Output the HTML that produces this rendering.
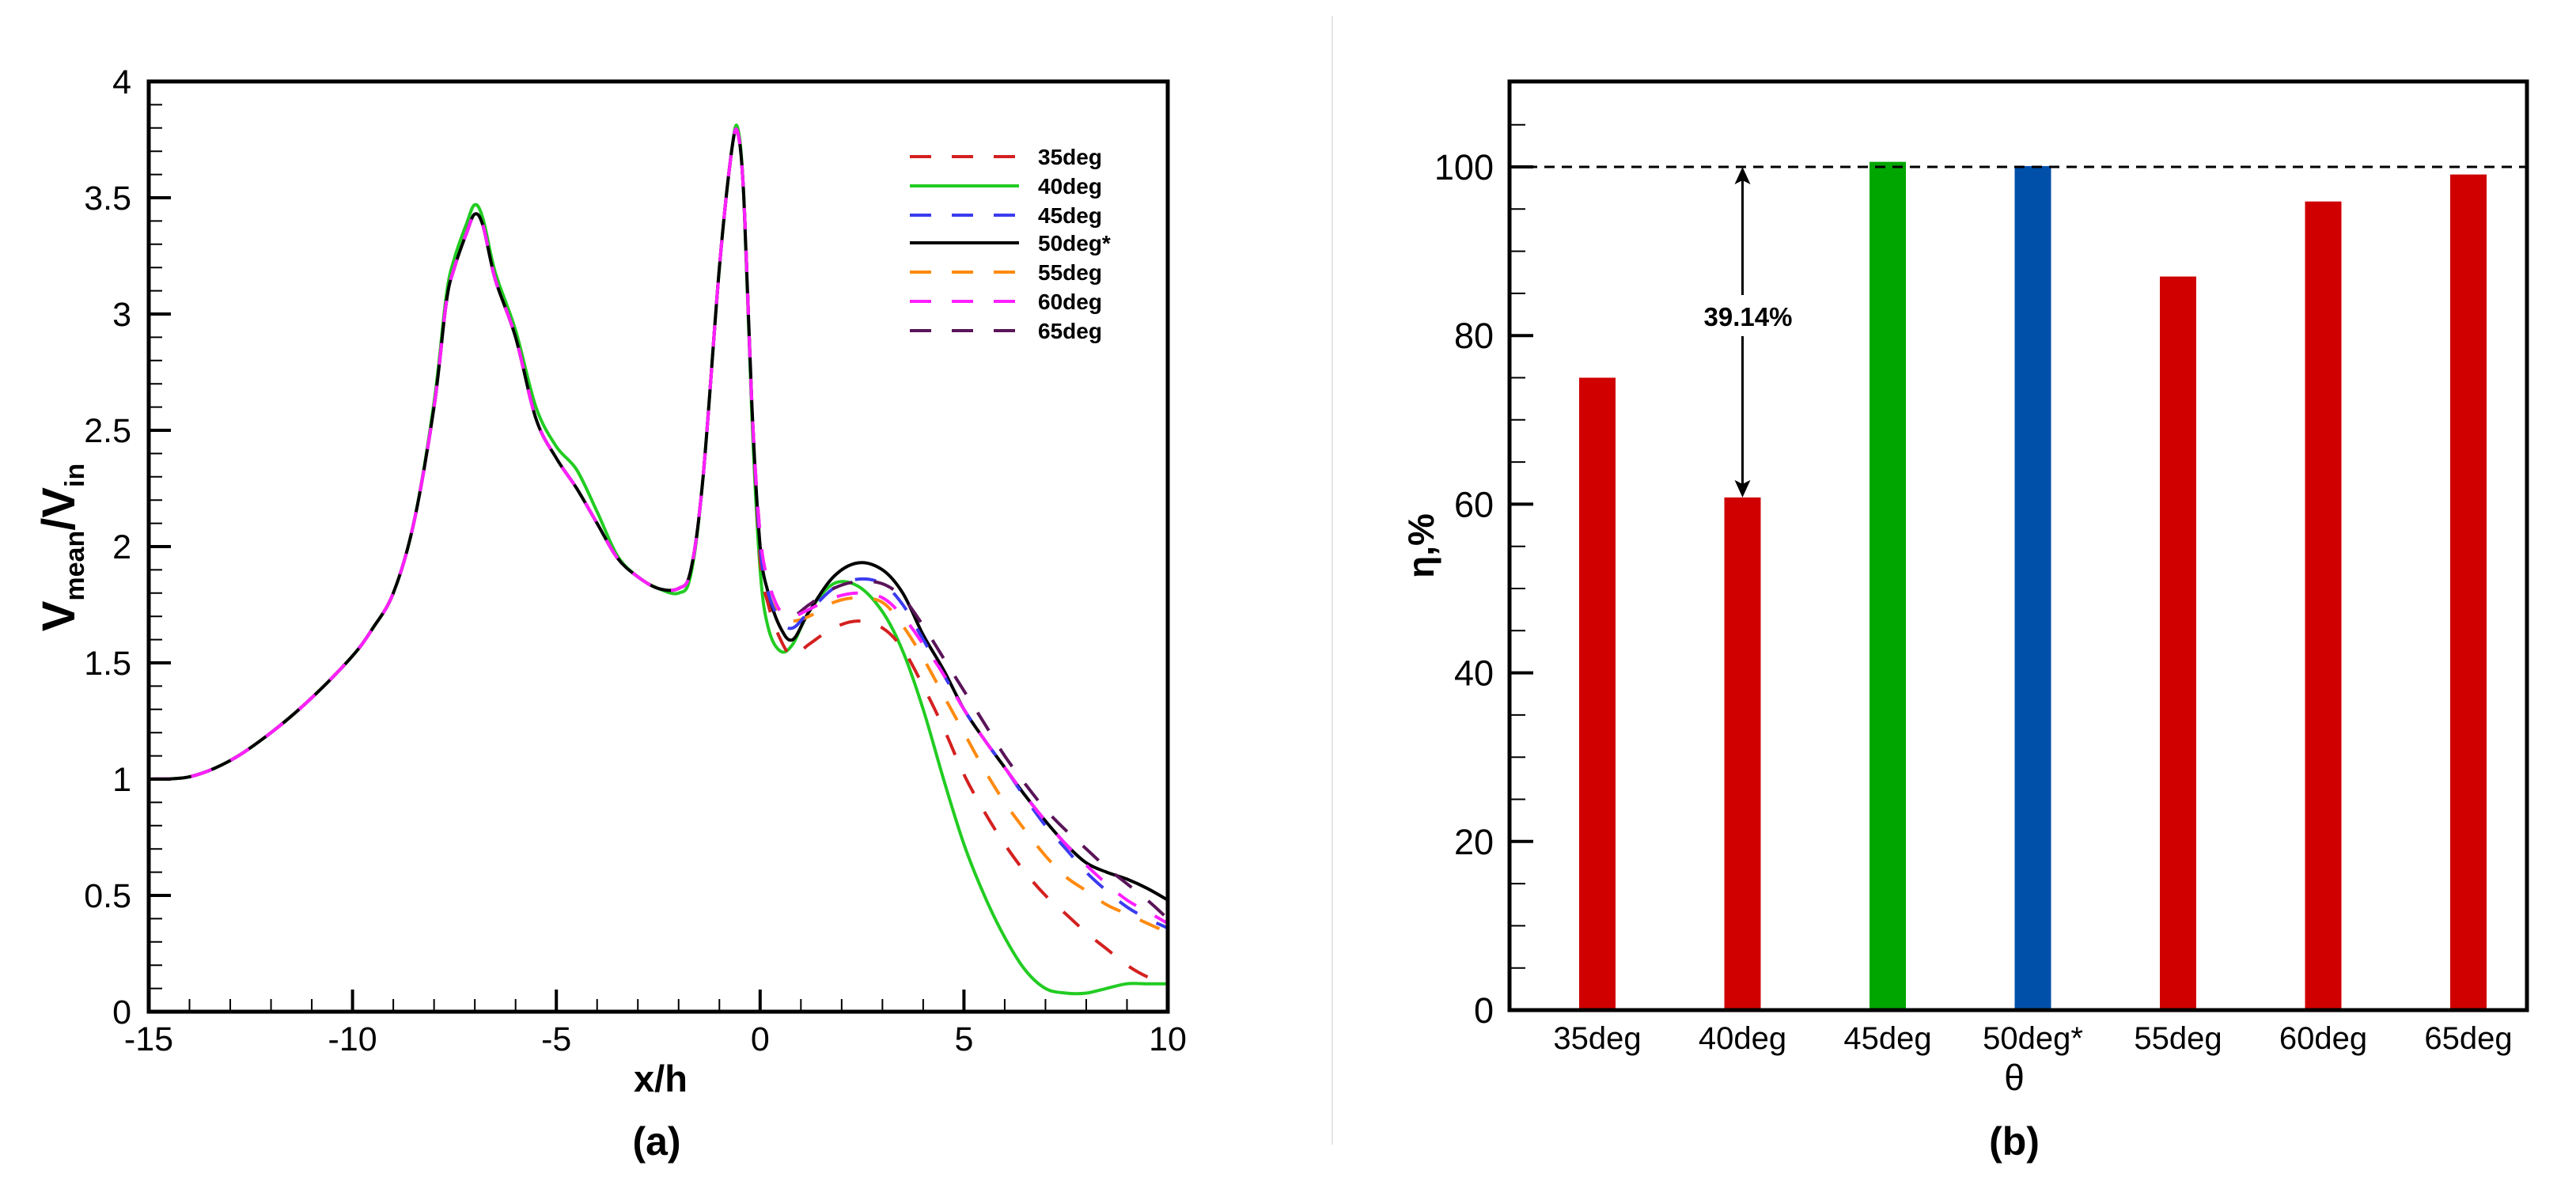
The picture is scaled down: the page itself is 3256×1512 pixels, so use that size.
<!DOCTYPE html>
<html><head><meta charset="utf-8">
<style>
html,body{margin:0;padding:0;background:#fff;}
svg{display:block;}
text{font-family:"Liberation Sans",Arial,sans-serif;}
</style></head>
<body>
<svg id="fig" width="3256" height="1512" viewBox="0 0 3256 1512" xmlns="http://www.w3.org/2000/svg">
<line x1="1684" y1="20" x2="1684" y2="1447" stroke="#e4e4e4" stroke-width="2"/>
<g id="left"></g>
<g id="right"></g>
</svg>
<script>
// ---------- Panel (a) data ----------
const upX = [-15,-14,-13,-12,-11,-10,-9.5,-9,-8.5,-8,-7.7,-7.5,-7.2,-7,-6.8,-6.5,-6,-5.5,-5,-4.5,-4,-3.5,-3,-2.5,-2,-1.7,-1.4,-1.0,-0.7,-0.55,-0.4,-0.2];
const upY = [1.0,1.01,1.08,1.2,1.35,1.53,1.65,1.8,2.1,2.6,3.05,3.2,3.35,3.43,3.38,3.15,2.9,2.55,2.38,2.25,2.1,1.95,1.87,1.82,1.82,1.9,2.3,3.2,3.7,3.78,3.5,2.6];
const upYGreen = [1.0,1.01,1.08,1.2,1.35,1.53,1.65,1.8,2.1,2.62,3.08,3.24,3.39,3.47,3.41,3.18,2.93,2.6,2.43,2.33,2.15,1.96,1.87,1.82,1.8,1.88,2.3,3.2,3.7,3.8,3.5,2.55];
const downX = [0,0.2,0.5,0.8,1.2,1.8,2.4,3,3.5,4,4.5,5,5.5,6,6.5,7,7.5,8,8.5,9,9.5,10];
const y35 = [1.95,1.75,1.6,1.53,1.58,1.65,1.68,1.65,1.56,1.4,1.22,1.02,0.86,0.72,0.6,0.5,0.42,0.34,0.27,0.2,0.15,0.12];
const y40 = [1.9,1.65,1.55,1.58,1.72,1.84,1.83,1.72,1.55,1.3,1.0,0.72,0.5,0.32,0.18,0.1,0.08,0.08,0.1,0.12,0.12,0.12];
const y45 = [2.0,1.8,1.68,1.65,1.72,1.82,1.86,1.84,1.75,1.6,1.45,1.3,1.17,1.05,0.92,0.8,0.7,0.6,0.52,0.45,0.4,0.36];
const y50 = [2.0,1.8,1.65,1.6,1.72,1.87,1.93,1.9,1.8,1.62,1.47,1.3,1.17,1.05,0.93,0.82,0.72,0.64,0.6,0.57,0.53,0.48];
const y55 = [2.0,1.8,1.7,1.68,1.7,1.76,1.78,1.76,1.66,1.52,1.36,1.2,1.04,0.9,0.78,0.67,0.58,0.52,0.46,0.42,0.38,0.34];
const y60 = [2.05,1.85,1.72,1.7,1.73,1.78,1.8,1.78,1.7,1.58,1.45,1.3,1.17,1.05,0.93,0.82,0.72,0.63,0.55,0.48,0.43,0.38];
const y65 = [2.05,1.85,1.72,1.7,1.75,1.82,1.85,1.84,1.78,1.66,1.52,1.38,1.24,1.1,0.98,0.87,0.78,0.7,0.62,0.55,0.48,0.40];
const seriesNames = ["35deg","40deg","45deg","50deg*","55deg","60deg","65deg"];
const xTickLabels = ["-15","-10","-5","0","5","10"];
const yTickLabels = ["0","0.5","1","1.5","2","2.5","3","3.5","4"];

// ---------- Panel (b) data ----------
const categories = ["35deg","40deg","45deg","50deg*","55deg","60deg","65deg"];
const eta = [75,60.8,100.6,100.1,87,95.9,99.1];
const etaTicks = ["0","20","40","60","80","100"];
const gapLabel = "39.14%";

const NS="http://www.w3.org/2000/svg";
function mk(tag,attrs,parent,txt){const e=document.createElementNS(NS,tag);for(const k in attrs)e.setAttribute(k,attrs[k]);if(txt!==undefined)e.textContent=txt;parent.appendChild(e);return e;}

// ===== Panel (a) =====
const L=document.getElementById('left');
const aL=188,aR=1476,aT=103,aB=1279;
const ax=v=>aL+(v+15)/25*(aR-aL);
const ay=v=>aB-v/4*(aB-aT);
function smoothPath(xs,ys){
  const p=xs.map((x,i)=>[ax(x),ay(ys[i])]);
  let d=`M${p[0][0].toFixed(1)},${p[0][1].toFixed(1)}`;
  for(let i=0;i<p.length-1;i++){
    const p0=p[i-1]||p[i],p1=p[i],p2=p[i+1],p3=p[i+2]||p[i+1];
    const c1=[p1[0]+(p2[0]-p0[0])/6,p1[1]+(p2[1]-p0[1])/6];
    const c2=[p2[0]-(p3[0]-p1[0])/6,p2[1]-(p3[1]-p1[1])/6];
    d+=`C${c1[0].toFixed(1)},${c1[1].toFixed(1)} ${c2[0].toFixed(1)},${c2[1].toFixed(1)} ${p2[0].toFixed(1)},${p2[1].toFixed(1)}`;
  }
  return d;
}
const allX=upX.concat(downX);
const seriesY=[upY.concat(y35),upYGreen.concat(y40),upY.concat(y45),upY.concat(y50),upY.concat(y55),upY.concat(y60),upY.concat(y65)];
const colors=["#d42020","#22cc22","#3b3bf0","#000000","#ff8a10","#ff20ff","#5a1458"];
const dashed=[true,false,true,false,true,true,true];
const order=[1,3,4,0,2,6,5];
order.forEach(i=>{
  const p=mk('path',{d:smoothPath(allX,seriesY[i]),fill:'none',stroke:colors[i],'stroke-width':4,'stroke-dasharray':dashed[i]?'27 27':'none','stroke-linejoin':'round'},L);
  
  
});
// ticks
for(let k=0;k<=40;k++){const v=k/10;const maj=k%5===0;const y=ay(v);
  const t=mk('line',{x1:aL,y1:y,x2:aL+(maj?28:17),y2:y,stroke:'#000','stroke-width':maj?4:2},L);
  }
yTickLabels.forEach((s,i)=>{const t=mk('text',{x:aL-22,y:ay(i*0.5)+15,'font-size':43,'text-anchor':'end'},L,s);
  });
for(let v=-15;v<=10;v++){const maj=v%5===0;const x=ax(v);
  const t=mk('line',{x1:x,y1:aB,x2:x,y2:aB-(maj?28:16),stroke:'#000','stroke-width':maj?4:2},L);
  }
xTickLabels.forEach((s,i)=>{const t=mk('text',{x:ax(-15+i*5),y:aB+49,'font-size':43,'text-anchor':'middle'},L,s);
  });
mk('rect',{x:aL,y:aT,width:aR-aL,height:aB-aT,fill:'none',stroke:'#000','stroke-width':5},L);
// legend
const lgY=[198,235,272,307,344,381,418];
seriesNames.forEach((n,i)=>{
  const g=mk('g',{},L);
  
  
  mk('line',{x1:1150,y1:lgY[i],x2:1288,y2:lgY[i],stroke:colors[i],'stroke-width':4,'stroke-dasharray':dashed[i]?'27 26':'none'},g);
  mk('text',{x:1312,y:lgY[i]+10,'font-size':28,'font-weight':'bold'},g,n);
});
const xt=mk('text',{x:835,y:1380,'font-size':47,'font-weight':'bold','text-anchor':'middle'},L,'x/h');

const ca=mk('text',{x:830,y:1460,'font-size':50,'font-weight':'bold','text-anchor':'middle'},L,'(a)');

const yt=mk('text',{x:0,y:0,'font-size':58,'font-weight':'bold','text-anchor':'middle',transform:'translate(94,692) rotate(-90)'},L);

yt.innerHTML='V<tspan font-size="34" dy="12">mean</tspan><tspan dy="-12">/V</tspan><tspan font-size="34" dy="12">in</tspan>';

// ===== Panel (b) =====
const R=document.getElementById('right');
const bL=1908,bR=3194,bT=103,bB=1277;
const by=v=>bB-v*(bB-211)/100;
const bx=i=>2019+i*183.5;
const barColors=["#d00000","#d00000","#00a600","#0050aa","#d00000","#d00000","#d00000"];
categories.forEach((c,i)=>{
  const r=mk('rect',{x:bx(i)-23,y:by(eta[i]),width:46,height:bB-by(eta[i]),fill:barColors[i]},R);
  
  
  const t=mk('text',{x:bx(i),y:bB+49,'font-size':40,'text-anchor':'middle'},R,c);
  
});
const ref=mk('line',{x1:bL,y1:by(100),x2:bR,y2:by(100),stroke:'#000','stroke-width':3,'stroke-dasharray':'13 9'},R);

for(let v=0;v<=110;v+=5){const maj=v%20===0;const y=by(v);
  const t=mk('line',{x1:bL,y1:y,x2:bL+(maj?30:20),y2:y,stroke:'#000','stroke-width':maj?4:2},R);
  }
etaTicks.forEach((s,i)=>{const t=mk('text',{x:bL-20,y:by(i*20)+16,'font-size':45,'text-anchor':'end'},R,s);
  });
mk('rect',{x:bL,y:bT,width:bR-bL,height:bB-bT,fill:'none',stroke:'#000','stroke-width':5},R);
// annotation arrow
const axp=bx(1);
const ann=mk('g',{},R);


mk('line',{x1:axp,y1:by(100)+14,x2:axp,y2:373,stroke:'#000','stroke-width':3},ann);
mk('line',{x1:axp,y1:425,x2:axp,y2:by(eta[1])-14,stroke:'#000','stroke-width':3},ann);
mk('path',{d:`M${axp},${by(100)} l-10,22 l10,-5 l10,5 z`,fill:'#000'},ann);
mk('path',{d:`M${axp},${by(eta[1])} l-10,-22 l10,5 l10,-5 z`,fill:'#000'},ann);
mk('text',{x:axp+7,y:412,'font-size':33,'font-weight':'bold','text-anchor':'middle'},ann,gapLabel);
const th=mk('text',{x:2546,y:1378,'font-size':46,'text-anchor':'middle','font-family':'Liberation Serif, serif'},R,'θ');

const cb=mk('text',{x:2546,y:1460,'font-size':50,'font-weight':'bold','text-anchor':'middle'},R,'(b)');

const et=mk('text',{x:0,y:0,'font-size':46,'font-weight':'bold','text-anchor':'middle','font-family':'Liberation Serif, serif',transform:'translate(1812,690) rotate(-90)'},R,'η,%');

</script>
</body></html>
